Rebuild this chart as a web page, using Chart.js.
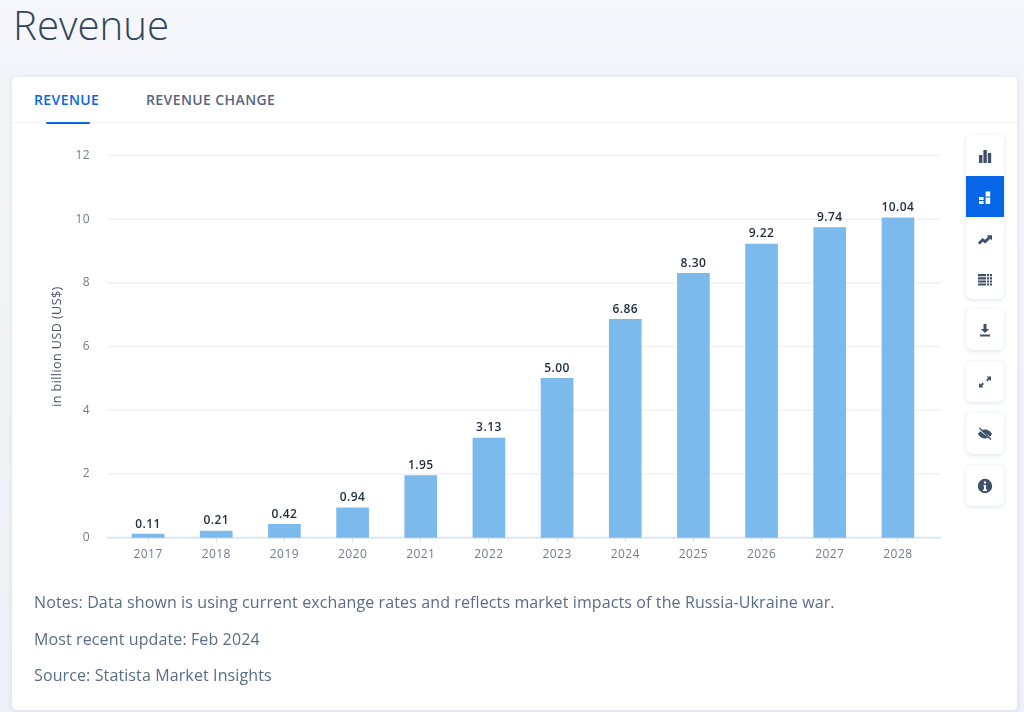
<!DOCTYPE html>
<html><head><meta charset="utf-8">
<script src="https://cdn.jsdelivr.net/npm/chart.js@4"></script>
<style>
html,body{margin:0;padding:0;width:1024px;height:712px;overflow:hidden;font-family:"Open Sans",sans-serif}
body{background:linear-gradient(180deg,#f6f8fc 0,#f3f5fa 70px,#eef1f7 712px);position:relative}
.t{position:absolute;white-space:nowrap}
#title{left:13px;top:-4px;font-size:40.2px;font-weight:300;color:#33465c;line-height:58px}
#card{position:absolute;left:12px;top:77px;width:1005px;height:633px;background:#fff;border-radius:5px;box-shadow:0 1px 6px rgba(120,140,170,.18)}
#sep{position:absolute;left:12px;top:122px;width:1005px;height:1px;background:#f2f4f8}
#ul{position:absolute;left:46px;top:121.5px;width:44px;height:2px;background:#0666e5;border-radius:1px}
.tab{top:89.500px;font-size:14px;font-weight:600;line-height:20px;letter-spacing:.4px}
.note{left:34px;font-size:16px;color:#5b6c86;line-height:22px;letter-spacing:.115px}
canvas{position:absolute;left:0;top:0}
.box{position:absolute;left:966px;width:38px;background:#fff;border-radius:6px;box-shadow:0 1px 4px rgba(120,140,170,.25);overflow:hidden}
.ic{height:41px;display:flex;align-items:center;justify-content:center}
.ic svg{width:16px;height:16px;fill:#3f5068}
.on{background:#0666e5}.on svg{fill:#fff}
</style></head><body>
<div id="title" class="t">Revenue</div>
<div id="card"></div><div id="sep"></div><div id="ul"></div>
<div class="t tab" style="left:34px;color:#0666e5">REVENUE</div>
<div class="t tab" style="left:146px;color:#56667e">REVENUE CHANGE</div>
<canvas id="c" width="1024" height="712"></canvas>
<div class="t note" style="top:591px">Notes: Data shown is using current exchange rates and reflects market impacts of the Russia-Ukraine war.</div>
<div class="t note" style="top:628px">Most recent update: Feb 2024</div>
<div class="t note" style="top:664px">Source: Statista Market Insights</div>
<div class="box" style="top:135px;height:164px">
<div class="ic"><svg viewBox="0 0 16 16"><rect x="2" y="7" width="3.4" height="8"/><rect x="6.4" y="2" width="3.4" height="13"/><rect x="10.8" y="5" width="3.4" height="10"/></svg></div>
<div class="ic on"><svg viewBox="0 0 16 16"><rect x="2" y="8" width="4.6" height="3"/><rect x="2" y="12" width="4.6" height="3"/><rect x="8.6" y="2.5" width="4.6" height="5"/><rect x="8.6" y="8.5" width="4.6" height="6.5"/></svg></div>
<div class="ic"><svg viewBox="0 0 16 16"><path d="M1 12.5l4.5-4.5 2.5 1.8 3.2-3-1.6-1.6H15v5.300l-1.700-1.700-5 4.700-2.500-1.800-3.200 3z"/></svg></div>
<div class="ic"><svg viewBox="0 0 16 16"><path d="M1 3h8v2.200H1zM10 3h2.200v2.200H10zM13 3h2v2.200h-2zM1 6.200h8v2.200H1zM10 6.200h2.200v2.200H10zM13 6.200h2v2.200h-2zM1 9.400h8v2.200H1zM10 9.400h2.200v2.200H10zM13 9.400h2v2.200h-2zM1 12.600h8v1.900H1zM10 12.600h2.200v1.900H10zM13 12.600h2v1.900h-2z"/></svg></div>
</div>
<div class="box" style="top:309px;height:41px"><div class="ic"><svg viewBox="0 0 16 16"><path d="M6.500 2h3v5h2.700L8 11 3.800 7h2.700zM3 12.500h10V14.500H3z"/></svg></div></div>
<div class="box" style="top:361px;height:41px"><div class="ic"><svg viewBox="0 0 16 16"><path d="M9.500 2.500h4.500V7l-1.600-1.600-2 2-1.300-1.300 2-2zM6.500 13.500H2V9l1.600 1.600 2-2 1.300 1.300-2 2z"/></svg></div></div>
<div class="box" style="top:413px;height:41px"><div class="ic"><svg viewBox="0 0 16 16"><path d="M8 3.500c3.500 0 6 2.800 7 4.500-.4.800-1.100 1.700-2 2.500L4.600 4.300C5.600 3.800 6.700 3.500 8 3.500zM1 8c.5-.9 1.300-1.900 2.300-2.700l8 6.400c-1 .5-2.100.8-3.300.8-3.500 0-6-2.800-7-4.500z"/><path d="M2 2.500l1-1 11.500 11.500-1 1z"/></svg></div></div>
<div class="box" style="top:465px;height:41px"><div class="ic"><svg viewBox="0 0 16 16"><path fill-rule="evenodd" d="M8 .8a7.200 7.200 0 1 0 0 14.400A7.200 7.200 0 0 0 8 .8zM7 3.500h2v2H7zM6.500 7h2.500v4.500h1V13h-4v-1.500h1V8.500h-.5z"/></svg></div></div>
<script>
const categories = ["2017","2018","2019","2020","2021","2022","2023","2024","2025","2026","2027","2028"];
const revenue = [0.11,0.21,0.42,0.94,1.95,3.13,5.00,6.86,8.30,9.22,9.74,10.04];
const yTicks = [0,2,4,6,8,10,12];
const axisTitle = "in billion USD (US$)";
const FONT = '"Open Sans", sans-serif';

const gridPlugin = {
  id: 'grid',
  beforeDraw(chart) { chart.ctx.letterSpacing = '0.45px'; },
  beforeDatasetsDraw(chart) {
    const {ctx, chartArea: a, scales: {y}} = chart;
    ctx.save();
    yTicks.forEach(v => {
      const p = y.getPixelForValue(v);
      ctx.beginPath();
      ctx.strokeStyle = v === 0 ? '#dbe6f3' : '#eff1f5';
      ctx.lineWidth = v === 0 ? 2 : 1.5;
      ctx.moveTo(a.left - 7, p);
      ctx.lineTo(a.right + 9, p);
      ctx.stroke();
    });
    ctx.restore();
  }
};
const labelPlugin = {
  id: 'vals',
  afterDatasetsDraw(chart) {
    const {ctx} = chart;
    ctx.save();
    ctx.font = '600 12px ' + FONT;
    ctx.fillStyle = '#1f2c3f';
    ctx.textAlign = 'center';
    ctx.textBaseline = 'bottom';
    chart.getDatasetMeta(0).data.forEach((b, i) => {
      ctx.fillText(revenue[i].toFixed(2), b.x, b.y - 4);
    });
    ctx.restore();
  }
};
new Chart(document.getElementById('c'), {
  type: 'bar',
  data: {labels: categories, datasets: [{data: revenue, backgroundColor: '#7cb9ec', barThickness: 32}]},
  plugins: [gridPlugin, labelPlugin],
  options: {
    responsive: false, animation: false,
    layout: {padding: {top: 155.5, right: 92, left: 0, bottom: 0}},
    plugins: {legend: {display: false}, tooltip: {enabled: false}},
    scales: {
      x: {
        grid: {display: true, drawOnChartArea: false, drawTicks: true, tickLength: 5, color: '#dbe6f3', offset: false},
        border: {display: false},
        ticks: {font: {family: FONT, size: 12}, color: '#717c8c', padding: 5, maxRotation: 0},
        afterFit(s) { s.height = 174.3; }
      },
      y: {
        min: 0, max: 12,
        afterBuildTicks(s) { s.ticks = yTicks.map(v => ({value: v})); },
        grid: {display: false},
        border: {display: false},
        ticks: {font: {family: FONT, size: 12}, color: '#717c8c', padding: 16},
        title: {display: true, text: axisTitle, font: {family: FONT, size: 12.5}, color: '#46566c', padding: {top: 50, bottom: 0}},
        afterFit(s) { s.width = 114; }
      }
    }
  }
});
</script>
</body></html>
